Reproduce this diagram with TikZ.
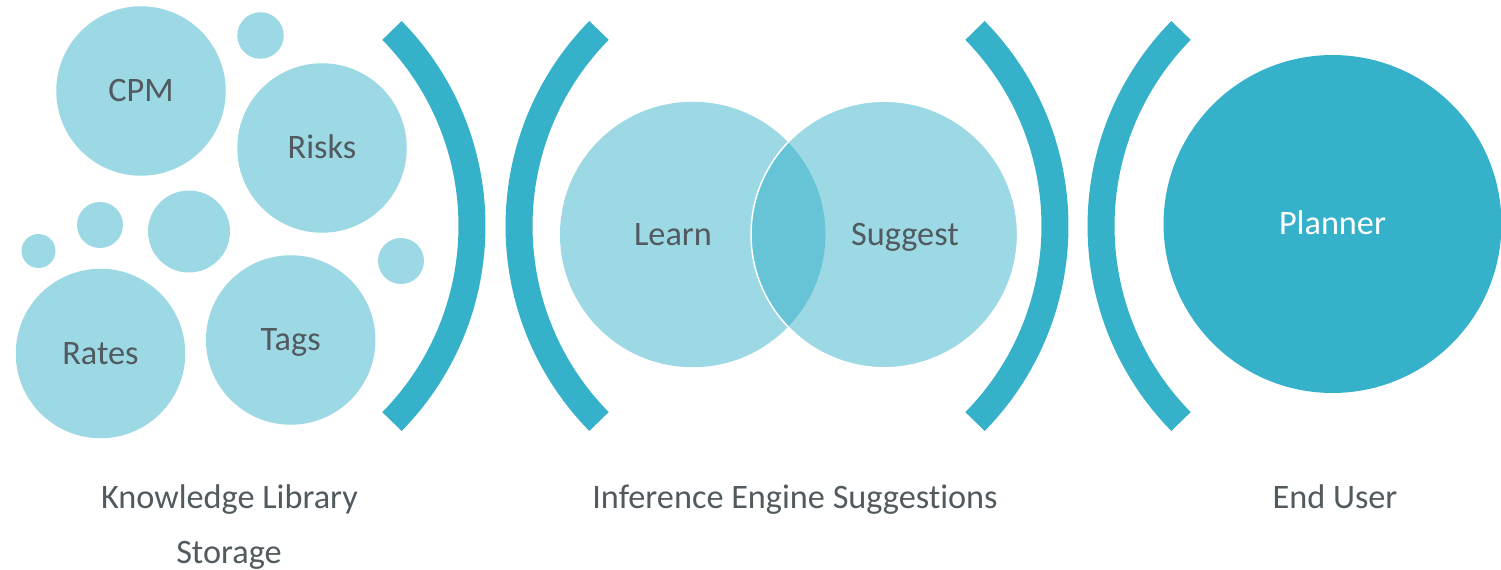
\documentclass[tikz,border=0pt]{standalone}
\usepackage{fontspec}
\setmainfont{Carlito}[Ligatures=NoCommon]

\definecolor{lightteal}{HTML}{9DD8E5}
\definecolor{deepteal}{HTML}{35B1CA}
\definecolor{midteal}{HTML}{67C4D6}
\definecolor{slate}{HTML}{505A5F}

\begin{document}
\begin{tikzpicture}[x=0.02cm, y=0.02cm,
		every node/.style={font=\fontsize{19.5}{23}\selectfont, text=slate},
		caption/.style={text height=12.4pt, text depth=0pt},
		bubble/.style={circle, fill=lightteal, inner sep=0pt, caption},
		bracket/.style={draw=deepteal, line width=0.54cm}]
	\def\R{279};
	\def\a{44.5};
	
	\useasboundingbox (0,0) rectangle (1501,-570);
	
	% knowledge library
	\node[bubble, minimum size=3.39cm] (cpm) at (141,-91) {CPM};
	\node[bubble, minimum size=3.39cm] (risks) at (322,-148) {Risks};
	\node[bubble, minimum size=3.39cm] (rates) at (100.5,-353.5) {Rates};
	\node[bubble, minimum size=3.39cm] (tags) at (290.7,-340) {Tags};
	
	\node[bubble, minimum size=0.93cm] (dota) at (260.5,-35.5) {};
	\node[bubble, minimum size=0.92cm] (dotb) at (100,-225) {};
	\node[bubble, minimum size=0.68cm] (dotc) at (38.5,-251) {};
	\node[bubble, minimum size=1.64cm] (dotd) at (189,-231.5) {};
	\node[bubble, minimum size=0.92cm] (dote) at (401,-261) {};
	
	% brackets
	\draw[bracket] (193,-226) ++(\a:\R) arc [start angle=\a, end angle=-\a, radius=\R];
	\draw[bracket] (798,-226) ++(180-\a:\R) arc [start angle=180-\a, end angle=180+\a, radius=\R];
	\draw[bracket] (776,-226) ++(\a:\R) arc [start angle=\a, end angle=-\a, radius=\R];
	\draw[bracket] (1380,-226) ++(180-\a:\R) arc [start angle=180-\a, end angle=180+\a, radius=\R];
	
	% inference engine
	\node[bubble, minimum size=5.31cm] (learn) at (692.7,-234.5) {};
	\node[bubble, minimum size=5.33cm] (suggest) at (884.3,-234.5) {};
	\begin{scope}
		\clip (learn.center) circle [radius=132.7];
		\fill[midteal] (suggest.center) circle [radius=133.3];
	\end{scope}
	\draw[white, line width=0.03cm] (suggest.center) circle [radius=133.3];
	\node[caption] (learntxt) at (673,-235) {Learn};
	\node[caption] (suggesttxt) at (905,-235) {Suggest};
	
	% end user
	\node[bubble, fill=deepteal, text=white, minimum size=6.76cm] (planner) at (1332.5,-224) {Planner};
	
	\begin{scope}[every node/.append style={anchor=base}]
		\node (libtxt) at (229.5,-509) {Knowledge Library};
		\node (libtxtb) at (229,-563) {Storage};
		\node (inftxt) at (795,-509) {Inference Engine Suggestions};
		\node (usertxt) at (1335,-509) {End User};
	\end{scope}
\end{tikzpicture}
\end{document}
